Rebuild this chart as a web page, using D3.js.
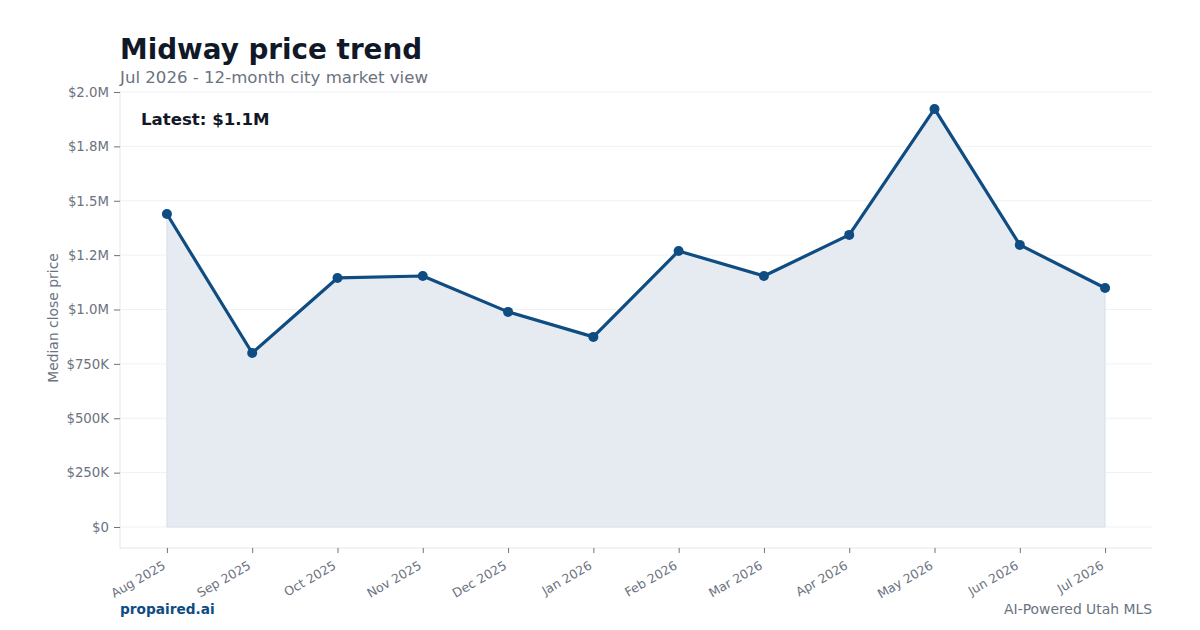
<!DOCTYPE html>
<html><head><meta charset="utf-8">
<script src="https://cdn.jsdelivr.net/npm/d3@7"></script>
<style>body{margin:0;background:#fff;font-family:"DejaVu Sans",sans-serif;}</style>
</head><body><svg id="c" width="1200" height="630"></svg>
<script>
const months = ["Aug 2025","Sep 2025","Oct 2025","Nov 2025","Dec 2025","Jan 2026","Feb 2026","Mar 2026","Apr 2026","May 2026","Jun 2026","Jul 2026"];
const prices = [1439000, 800000, 1145000, 1154000, 989000, 874000, 1269000, 1154000, 1343000, 1922000, 1297000, 1099000];
const yTicks = [0, 250000, 500000, 750000, 1000000, 1250000, 1500000, 1750000, 2000000];
const yTickLabels = ["$0","$250K","$500K","$750K","$1.0M","$1.2M","$1.5M","$1.8M","$2.0M"];

const svg = d3.select("#c").style("font-family", "DejaVu Sans");
const L = 120, R = 1152, T = 92, B = 548;
const x = d3.scalePoint().domain(months).range([L, R]).padding(0.55);
const yMin = -2000000 * 21 / 435;
const y = d3.scaleLinear().domain([yMin, 2000000]).range([B, T]);
const lineColor = "#0f4c81", gray = "#6b7280";

// gridlines
svg.append("g").selectAll("line").data(yTicks).join("line")
  .attr("x1", L).attr("x2", R).attr("y1", d => y(d)).attr("y2", d => y(d))
  .attr("stroke", "#f0f1f4").attr("stroke-width", 1);

// axes lines
svg.append("line").attr("x1", L).attr("x2", L).attr("y1", T).attr("y2", B).attr("stroke", "#e3e5ea");
svg.append("line").attr("x1", L).attr("x2", R).attr("y1", B).attr("y2", B).attr("stroke", "#e3e5ea");

// y axis
const yAxis = d3.axisLeft(y).tickValues(yTicks).tickSize(6).tickPadding(5)
  .tickFormat((d, i) => yTickLabels[i]);
const gy = svg.append("g").attr("transform", `translate(${L},0)`).call(yAxis);
gy.select(".domain").remove();
gy.selectAll(".tick line").attr("stroke", gray);
gy.selectAll(".tick text").attr("fill", gray).style("font-family", "DejaVu Sans").style("font-size", "13.3px");

// x axis
const xAxis = d3.axisBottom(x).tickSize(5).tickPadding(4);
const gx = svg.append("g").attr("transform", `translate(0,${B})`).call(xAxis);
gx.select(".domain").remove();
gx.selectAll(".tick line").attr("stroke", gray);
gx.selectAll(".tick text").attr("fill", gray).style("font-family", "DejaVu Sans").style("font-size", "12.5px")
  .attr("text-anchor", "end").attr("dy", null).attr("y", 0)
  .attr("transform", "translate(-1,20) rotate(-30)");

// area
const area = d3.area().x((d, i) => x(months[i])).y0(y(0)).y1(d => y(d));
svg.append("path").datum(prices).attr("d", area)
  .attr("fill", "#e6ebf2").attr("stroke", "#d9e0e8").attr("stroke-width", 1);

// line
const line = d3.line().x((d, i) => x(months[i])).y(d => y(d));
svg.append("path").datum(prices).attr("d", line)
  .attr("fill", "none").attr("stroke", lineColor).attr("stroke-width", 3.2).attr("stroke-linejoin", "round");

svg.append("g").selectAll("circle").data(prices).join("circle")
  .attr("cx", (d, i) => x(months[i])).attr("cy", d => y(d)).attr("r", 5).attr("fill", lineColor);

// titles
svg.append("text").attr("x", 120).attr("y", 59).text("Midway price trend")
  .attr("fill", "#111827").style("font-size", "27.8px").style("font-weight", "bold");
svg.append("text").attr("x", 120).attr("y", 83).text("Jul 2026 - 12-month city market view")
  .attr("fill", gray).style("font-size", "16.6px");
svg.append("text").attr("x", 141).attr("y", 125).text("Latest: $1.1M")
  .attr("fill", "#111827").style("font-size", "16.6px").style("font-weight", "bold");

// y axis title
svg.append("text").attr("transform", `translate(58,${(T + B) / 2 - 2}) rotate(-90)`)
  .attr("text-anchor", "middle").text("Median close price")
  .attr("fill", gray).style("font-size", "13.9px");

// footer
svg.append("text").attr("x", 120).attr("y", 614).text("propaired.ai")
  .attr("fill", lineColor).style("font-size", "13.7px").style("font-weight", "bold");
svg.append("text").attr("x", 1152).attr("y", 614).attr("text-anchor", "end").text("AI-Powered Utah MLS")
  .attr("fill", gray).style("font-size", "13.9px");
</script></body></html>
